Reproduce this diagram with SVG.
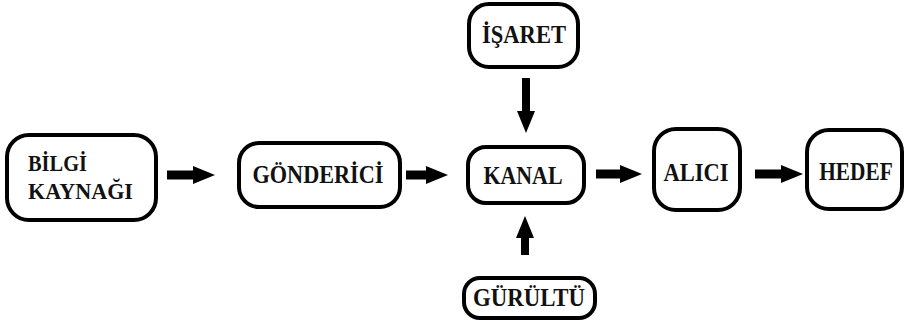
<svg xmlns="http://www.w3.org/2000/svg" width="907" height="329" viewBox="0 0 907 329">
<style>
.box{fill:#fff;stroke:#000;stroke-width:4}
.t{font-family:'Liberation Serif','Times New Roman',serif;font-weight:bold;font-size:26px;fill:#111}
.s{font-size:24px}
.c{text-anchor:middle}
.ar{stroke:#000;fill:none}
</style>
<defs>
<marker id="ah" viewBox="0 0 22 18" markerUnits="userSpaceOnUse" markerWidth="22" markerHeight="18" refX="1" refY="9" orient="auto">
<path d="M0,0 L22,9 L0,18 Z" fill="#000"/>
</marker>
</defs>
<rect width="907" height="329" fill="#fff"/>
<g id="connectors">
<line class="ar" x1="167" y1="175" x2="194" y2="175" stroke-width="9" marker-end="url(#ah)"/>
<line class="ar" x1="406" y1="175" x2="427" y2="175" stroke-width="9" marker-end="url(#ah)"/>
<line class="ar" x1="596" y1="174" x2="621" y2="174" stroke-width="9" marker-end="url(#ah)"/>
<line class="ar" x1="755" y1="174" x2="782" y2="174" stroke-width="9" marker-end="url(#ah)"/>
<line class="ar" x1="526" y1="78" x2="526" y2="112" stroke-width="8" marker-end="url(#ah)"/>
<line class="ar" x1="525" y1="255" x2="525" y2="237" stroke-width="8" marker-end="url(#ah)"/>
</g>
<g id="bilgi">
<rect class="box" x="7" y="135" width="149" height="85" rx="22"/>
<text class="t s" x="28" y="171" textLength="59" lengthAdjust="spacingAndGlyphs">BİLGİ</text>
<text class="t s" x="28" y="199" textLength="105" lengthAdjust="spacingAndGlyphs">KAYNAĞI</text>
</g>
<g id="gonderici">
<rect class="box" x="239" y="143" width="161" height="64" rx="20"/>
<text class="t c" x="318" y="183" textLength="131" lengthAdjust="spacingAndGlyphs">GÖNDERİCİ</text>
</g>
<g id="kanal">
<rect class="box" x="468" y="147" width="116" height="56" rx="18"/>
<text class="t c" x="523" y="184" textLength="79" lengthAdjust="spacingAndGlyphs">KANAL</text>
</g>
<g id="alici">
<rect class="box" x="654" y="129" width="86" height="81" rx="22"/>
<text class="t c" x="696" y="181" textLength="65" lengthAdjust="spacingAndGlyphs">ALICI</text>
</g>
<g id="hedef">
<rect class="box" x="807" y="130" width="95" height="79" rx="22"/>
<text class="t c" transform="translate(856,180) scale(0.82,1)" x="0" y="0">HEDEF</text>
</g>
<g id="isaret">
<rect class="box" x="469" y="4" width="109" height="63" rx="20"/>
<text class="t c" x="524" y="43" textLength="84" lengthAdjust="spacingAndGlyphs">İŞARET</text>
</g>
<g id="gurultu">
<rect class="box" x="464" y="278" width="131" height="40" rx="16"/>
<text class="t c" x="529" y="306" textLength="112" lengthAdjust="spacingAndGlyphs">GÜRÜLTÜ</text>
</g>
</svg>
